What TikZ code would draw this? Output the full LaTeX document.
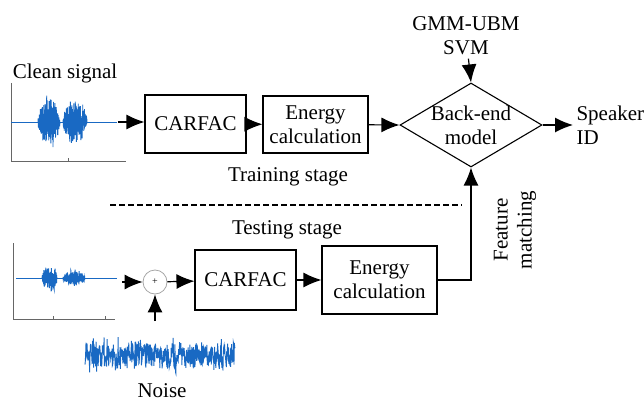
\documentclass[tikz,border=0pt]{standalone}
\usepackage{fontspec}
\setmainfont{Liberation Serif}
\usetikzlibrary{shapes.geometric,arrows.meta,positioning}
\definecolor{wave}{RGB}{25,105,195}
\tikzset
{
    process/.style  = {rectangle, draw=black, line width=1.1pt, align=center, minimum width=101pt, minimum height=58pt, inner sep=2pt},
    decision/.style = {diamond, draw=black, line width=1.1pt, minimum width=142pt, minimum height=84pt, inner sep=0pt},
    adder/.style    = {circle, draw=black!35, line width=0.8pt, minimum size=24pt, inner sep=0pt, font=\fontsize{10}{12}\selectfont},
    arrow/.style    = {draw, line width=1.2pt, -{Latex[length=18pt, width=15pt]}},
    axisline/.style = {draw=black!60, line width=0.8pt},
    wavelet/.style  = {draw=wave, line width=0.9pt}
}

\begin{document}
\begin{tikzpicture}[x=1pt, y=-1pt, font=\fontsize{21}{24}\selectfont]

   \useasboundingbox (0, 0) rectangle (644, 401);
   \pgfmathsetseed{17}

   % clean signal
   \draw[axisline] (11, 83) -- (11, 161) -- (126, 161);
   \draw[axisline] (68, 161) -- (68, 158);
   \draw[wavelet] (11, 122) -- (117, 122);
   \draw[wavelet] plot[domain=38:60, samples=200] (\x, {122 + 28*sqrt(abs(sin(180*(\x-38)/22)))*rand*(0.6+0.4*abs(rand))});
   \draw[wavelet] plot[domain=63:87, samples=210] (\x, {122 + 25*sqrt(abs(sin(180*(\x-63)/24)))*rand*(0.6+0.4*abs(rand))});

   % noisy test signal
   \draw[axisline] (13, 243) -- (13, 319) -- (115, 319);
   \draw[axisline] (53, 319) -- (53, 316);
   \draw[axisline] (105, 319) -- (105, 316);
   \draw[wavelet] (16, 278) -- (117, 278);
   \draw[wavelet] plot[domain=42:57, samples=140] (\x, {278 + 17*sqrt(abs(sin(180*(\x-42)/15)))*rand*(0.5+0.5*abs(rand))});
   \draw[wavelet] plot[domain=63:85, samples=180] (\x, {278 + 9*sqrt(abs(sin(180*(\x-63)/22)))*rand*(0.6+0.4*abs(rand))});

   % noise
   \draw[wavelet] plot[domain=85:235, samples=450] (\x, {355 + 13*rand + 14*rand*rand*rand});

   \node (clean)                                                        at (65, 73)       {Clean signal};
   \node (carfacA)  [process]                                           at (195.5, 124)   {CARFAC};
   \node (energyA)  [process, minimum width=105pt, minimum height=57pt] at (315.5, 124.5) {Energy\\calculation};
   \node (model)    [decision]                                          at (471, 125)     {};
   \node (modeltxt) [align=center]                                      at (model.center) {Back-end\\model};
   \node (gmm)      [align=center]                                      at (466, 36)      {GMM-UBM\\SVM};
   \node (spk)      [align=left, anchor=west]                           at (573, 125)     {Speaker\\ID};
   \node (train)                                                        at (288, 177)     {Training stage};
   \node (test)                                                         at (287, 230)     {Testing stage};
   \node (sum)      [adder]                                             at (155, 282)     {+};
   \node (carfacB)  [process, minimum height=60pt]                      at (245.5, 280)   {CARFAC};
   \node (energyB)  [process, minimum width=115pt, minimum height=68pt] at (379.5, 280)   {Energy\\calculation};
   \node (feat)     [rotate=90, align=center]                           at (515, 230)     {Feature\\matching};
   \node (noise)                                                        at (162, 391)     {Noise};

   \coordinate (cleanA)   at (118, 122);
   \coordinate (cleanB)   at (122, 282);
   \coordinate (noiseTop) at (155, 321);

   \draw[line width=1.1pt, dash pattern=on 6pt off 3pt] (110, 205) -- (462, 205);

   \draw[arrow] (cleanA)   -- (cleanA -| carfacA.west);
   \draw[arrow] (carfacA)  -- (energyA);
   \draw[arrow] (energyA)  -- (model.west);
   \draw[arrow] (gmm)      -- (model.north);
   \draw[arrow] (model)    -- (spk);
   \draw[arrow] (cleanB)   -- (sum);
   \draw[arrow] (noiseTop) -- (sum);
   \draw[arrow] (sum)      -- (carfacB);
   \draw[arrow] (carfacB)  -- (energyB);
   \draw[arrow] (energyB.east) -| (model.south);

\end{tikzpicture}
\end{document}
